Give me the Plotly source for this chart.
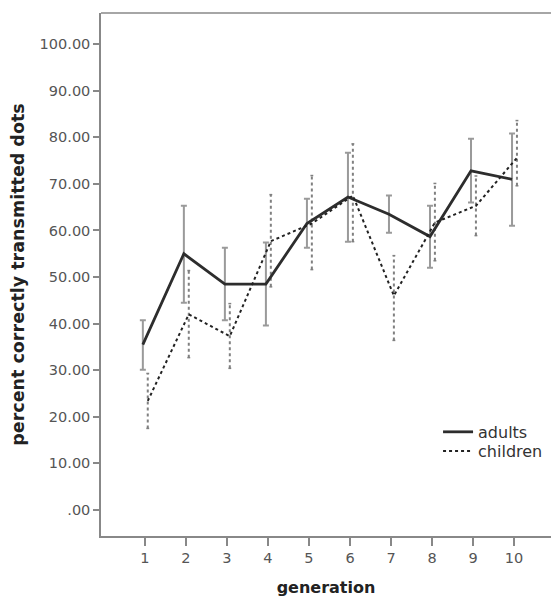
import plotly.graph_objects as go

# ---- data ----
generations = [1, 2, 3, 4, 5, 6, 7, 8, 9, 10]
adults_mean = [35.5, 55.0, 48.5, 48.5, 61.5, 67.2, 63.5, 58.7, 72.8, 71.0]
adults_low = [30.1, 44.5, 40.7, 39.6, 56.3, 57.6, 59.5, 52.0, 66.0, 61.0]
adults_high = [40.7, 65.3, 56.3, 57.4, 66.8, 76.7, 67.5, 65.3, 79.7, 80.8]
children_mean = [23.4, 42.0, 37.3, 57.7, 61.5, 67.5, 46.0, 61.7, 65.3, 75.6]
children_low = [17.5, 32.7, 30.4, 47.9, 51.6, 57.6, 36.4, 53.5, 58.9, 69.6]
children_high = [29.3, 51.4, 44.3, 67.7, 71.8, 78.6, 54.6, 70.1, 71.7, 83.6]
y_tickvals = [0, 10, 20, 30, 40, 50, 60, 70, 80, 90, 100]
y_ticktext = [".00", "10.00", "20.00", "30.00", "40.00", "50.00",
              "60.00", "70.00", "80.00", "90.00", "100.00"]

# ---- style ----
ADULT_OFF = -0.05
CHILD_OFF = 0.07
CAP = 0.07
ERR_COLOR = "#9a9a9a"
FONT = "DejaVu Sans"
AXIS_COLOR = "#888888"

xa = [g + ADULT_OFF for g in generations]
xc = [g + CHILD_OFF for g in generations]

fig = go.Figure()

# adults error bars (solid)
fig.add_trace(go.Scatter(
    x=xa, y=adults_mean, mode="lines",
    line=dict(color="rgba(0,0,0,0)", width=0),
    error_y=dict(type="data", symmetric=False,
                 array=[h - m for h, m in zip(adults_high, adults_mean)],
                 arrayminus=[m - l for m, l in zip(adults_mean, adults_low)],
                 color=ERR_COLOR, thickness=2, width=3),
    showlegend=False, hoverinfo="skip"))

# children error bars (dotted) built as segments
ex, ey = [], []
for x, lo, hi in zip(xc, children_low, children_high):
    ex += [x, x, None]
    ey += [lo, hi, None]
cx, cy = [], []
for x, lo, hi in zip(xc, children_low, children_high):
    cx += [x - CAP / 2, x + CAP / 2, None, x - CAP / 2, x + CAP / 2, None]
    cy += [lo, lo, None, hi, hi, None]
fig.add_trace(go.Scatter(x=ex, y=ey, mode="lines",
                         line=dict(color="#808080", width=2, dash="dot"),
                         showlegend=False, hoverinfo="skip"))
fig.add_trace(go.Scatter(x=cx, y=cy, mode="lines",
                         line=dict(color="#808080", width=1.5),
                         showlegend=False, hoverinfo="skip"))

# main lines
fig.add_trace(go.Scatter(x=xa, y=adults_mean, mode="lines", name="adults",
                         legend="legend",
                         line=dict(color="#2d2d2d", width=2.8)))
fig.add_trace(go.Scatter(x=xc, y=children_mean, mode="lines", name="children",
                         legend="legend2",
                         line=dict(color="#222222", width=2, dash="dot")))

leg_common = dict(xanchor="left", yanchor="middle", bgcolor="rgba(0,0,0,0)",
                  font=dict(size=16, color="#333333"))

fig.update_layout(
    width=551, height=597,
    margin=dict(l=101, r=0, t=13, b=61),
    paper_bgcolor="white", plot_bgcolor="white",
    font=dict(family=FONT, size=14.5, color="#555555"),
    legend=dict(x=0.749, y=0.199, **leg_common),
    legend2=dict(x=0.749, y=0.1625, **leg_common),
    xaxis=dict(range=[-0.07, 10.9], tickvals=generations,
               ticktext=[str(g) for g in generations],
               showline=True, linecolor=AXIS_COLOR, linewidth=1.5, mirror=False,
               ticks="outside", ticklen=8, tickcolor=AXIS_COLOR, tickwidth=1.5,
               showgrid=False, zeroline=False, automargin=False,
               title=dict(text="<b>generation</b>", standoff=21,
                          font=dict(family=FONT, size=16, color="#222222"))),
    yaxis=dict(range=[-5.6, 106.7], tickvals=y_tickvals, ticktext=y_ticktext,
               showline=True, linecolor=AXIS_COLOR, linewidth=1.5, mirror=False,
               ticks="outside", ticklen=6, tickcolor=AXIS_COLOR, tickwidth=1.5,
               showgrid=False, zeroline=False, automargin=False,
               title=dict(text="<b>percent correctly transmitted dots</b>", standoff=10,
                          font=dict(family=FONT, size=17.5, color="#222222"))),
    shapes=[dict(type="line", xref="paper", yref="paper", x0=0, x1=1, y0=1, y1=1,
                 line=dict(color=AXIS_COLOR, width=1.5))],
)

fig.write_html(
    "out.html",
    config={"displayModeBar": False},
    post_script="document.documentElement.style.overflow='hidden';"
                "document.body.style.margin='0';document.body.style.overflow='hidden';",
)
